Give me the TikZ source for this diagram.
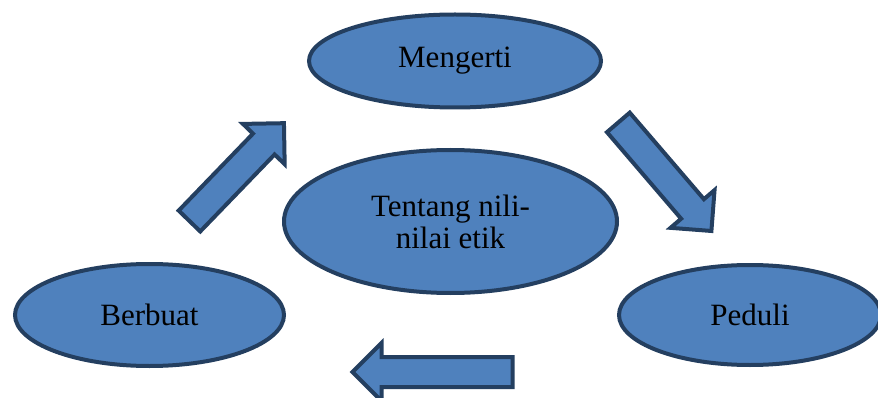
\documentclass[tikz,border=0pt]{standalone}
\usepackage{fontspec}
\setmainfont{Liberation Serif}
\usetikzlibrary{shapes.geometric,shapes.arrows}
\definecolor{fillblue}{HTML}{4F81BD}
\definecolor{edgeblue}{HTML}{243F60}

\begin{document}
\begin{tikzpicture}[x=1pt,y=-1pt,
    bubble/.style={ellipse,draw=edgeblue,fill=fillblue,line width=4pt,inner sep=0pt,
        font=\fontsize{31}{32}\selectfont,align=center},
    blockarrow/.style={single arrow,draw=edgeblue,fill=fillblue,line width=4pt,
        inner xsep=0pt,inner ysep=13pt,single arrow head extend=14pt,single arrow tip angle=90}]
    \useasboundingbox (0,0) rectangle (878,398);
    \node[bubble,minimum width=292pt,minimum height=93pt] (m) at (455,61) {Mengerti};
    \node[bubble,minimum width=333pt,minimum height=143pt] (t) at (450.5,221.5) {Tentang nili-\\nilai etik};
    \node[bubble,minimum width=269pt,minimum height=102pt] (b) at (149.5,315) {Berbuat};
    \node[bubble,minimum width=262pt,minimum height=100pt] (p) at (750,315) {Peduli};
    \node[blockarrow,minimum height=136pt,rotate=46] (u) at (231.5,177.5) {};
    \node[blockarrow,minimum height=143pt,rotate=-49.4] (d) at (660,171) {};
    \node[blockarrow,minimum height=160pt,rotate=180] (l) at (440,372) {};
\end{tikzpicture}
\end{document}
